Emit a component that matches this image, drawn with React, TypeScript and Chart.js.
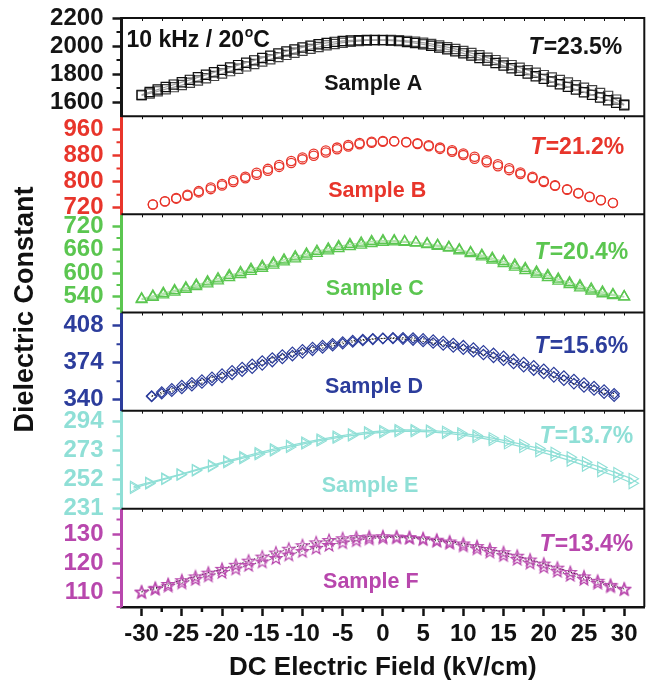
import React, { useEffect, useRef } from 'react';
import { Chart, registerables } from 'chart.js';

Chart.register(...registerables);

const FONT = '"Liberation Sans", Arial, Helvetica, sans-serif';
const W = 652;
const H = 684;

// ---------------- data ----------------
const X_TICKS = [-30, -25, -20, -15, -10, -5, 0, 5, 10, 15, 20, 25, 30];
const X_MINOR = [-27.5, -22.5, -17.5, -12.5, -7.5, -2.5, 2.5, 7.5, 12.5, 17.5, 22.5, 27.5];

const X_A = [-30, -29, -28, -27, -26, -25, -24, -23, -22, -21, -20, -19, -18, -17, -16, -15, -14, -13, -12, -11, -10, -9, -8, -7, -6, -5, -4, -3, -2, -1,
  0, 1, 2, 3, 4, 5, 6, 7, 8, 9, 10, 11, 12, 13, 14, 15, 16, 17, 18, 19, 20, 21, 22, 23, 24, 25, 26, 27, 28, 29, 30];
const A_SWEEP1 = [1652, 1672, 1690, 1708, 1725, 1742, 1759, 1777, 1795, 1813, 1830, 1847, 1864, 1881, 1898, 1915, 1931, 1947, 1962, 1976, 1990, 2002, 2013, 2022, 2030, 2036, 2040, 2042, 2043, 2043,
  2042, 2039, 2035, 2029, 2021, 2012, 2002, 1990, 1977, 1963, 1948, 1932, 1915, 1897, 1879, 1861, 1842, 1823, 1804, 1785, 1766, 1747, 1728, 1709, 1690, 1671, 1652, 1633, 1614, 1596, 1578];
const A_SWEEP2 = [1648, 1662, 1677, 1692, 1707, 1722, 1738, 1754, 1770, 1787, 1804, 1821, 1838, 1855, 1872, 1889, 1905, 1921, 1937, 1952, 1966, 1980, 1993, 2005, 2015, 2024, 2031, 2036, 2040, 2042,
  2043, 2043, 2041, 2037, 2031, 2024, 2015, 2004, 1992, 1979, 1965, 1950, 1934, 1917, 1900, 1882, 1864, 1846, 1828, 1810, 1793, 1776, 1758, 1740, 1720, 1703, 1685, 1666, 1645, 1618, 1583];

const X_B = [-28.6, -27.1, -25.7, -24.3, -22.9, -21.4, -20, -18.6, -17.1, -15.7, -14.3, -12.9, -11.4, -10, -8.6, -7.1, -5.7, -4.3, -2.9, -1.4,
  0, 1.4, 2.9, 4.3, 5.7, 7.1, 8.6, 10, 11.4, 12.9, 14.3, 15.7, 17.1, 18.6, 20, 21.4, 22.9, 24.3, 25.7, 27.1, 28.6];
const B_SWEEP1 = [730, 740, 750, 760, 771, 782, 793, 804, 815, 827, 839, 851, 863, 874, 885, 895, 904, 912, 918, 922,
  924, 923, 920, 915, 908, 900, 891, 881, 870, 859, 847, 835, 823, 811, 799, 787, 775, 764, 753, 743, 735];
const B_SWEEP2 = [730, 739, 748, 757, 767, 777, 788, 799, 810, 821, 833, 845, 857, 868, 879, 889, 899, 907, 914, 919,
  922, 923, 921, 917, 911, 904, 896, 886, 876, 865, 853, 841, 828, 815, 802, 789, 777, 765, 754, 744, 735];

const X_C = [-30, -28.6, -27.3, -25.9, -24.5, -23.2, -21.8, -20.5, -19.1, -17.7, -16.4, -15, -13.6, -12.3, -10.9, -9.5, -8.2, -6.8, -5.5, -4.1, -2.7, -1.4,
  0, 1.4, 2.7, 4.1, 5.5, 6.8, 8.2, 9.5, 10.9, 12.3, 13.6, 15, 16.4, 17.7, 19.1, 20.5, 21.8, 23.2, 24.5, 25.9, 27.3, 28.6, 30];
const C_SWEEP1 = [535, 542, 549, 556, 563, 570, 578, 586, 594, 602, 610, 618, 626, 634, 642, 649, 656, 662, 668, 673, 677, 681,
  683, 683, 681, 678, 675, 671, 666, 660, 653, 646, 638, 630, 621, 612, 603, 594, 585, 576, 568, 560, 552, 546, 540];
const C_SWEEP2 = [533, 539, 545, 552, 559, 566, 573, 581, 589, 597, 605, 613, 621, 629, 637, 644, 651, 657, 663, 668, 672, 676,
  679, 680, 679, 677, 673, 669, 664, 657, 650, 642, 634, 625, 616, 607, 598, 589, 580, 571, 563, 555, 548, 543, 540];

const X_D = [-28.75, -27.5, -26.25, -25, -23.75, -22.5, -21.25, -20, -18.75, -17.5, -16.25, -15, -13.75, -12.5, -11.25, -10, -8.75, -7.5, -6.25, -5, -3.75, -2.5, -1.25,
  0, 1.25, 2.5, 3.75, 5, 6.25, 7.5, 8.75, 10, 11.25, 12.5, 13.75, 15, 16.25, 17.5, 18.75, 20, 21.25, 22.5, 23.75, 25, 26.25, 27.5, 28.75];
const D_SWEEP1 = [343, 347, 350, 353, 355.5, 358, 360.5, 363.5, 366.5, 369.5, 372.5, 375.5, 378.3, 381, 383.5, 385.8, 387.8, 389.7, 391.4, 392.9, 394.2, 395.2, 395.9,
  396.3, 396.2, 395.6, 394.7, 393.5, 392, 390.3, 388.4, 386.3, 384, 381.5, 378.9, 376.2, 373.3, 370.3, 367.2, 364.1, 361, 357.9, 354.8, 351.8, 348.9, 346, 343.3];
const D_SWEEP2 = [343.5, 345.5, 347.8, 350.3, 352.8, 355.3, 357.8, 360.5, 363.3, 366.1, 369, 372, 375, 377.8, 380.5, 383, 385.3, 387.5, 389.5, 391.3, 392.9, 394.3, 395.4,
  396.2, 396.8, 396.9, 396.6, 395.8, 394.7, 393.3, 391.6, 389.6, 387.4, 385, 382.5, 379.8, 377, 374.1, 371.1, 368, 364.9, 361.8, 358.6, 355.4, 352.2, 349, 345.5];

const X_E = [-31, -29.1, -27.1, -25.2, -23.3, -21.3, -19.4, -17.4, -15.5, -13.6, -11.6, -9.7, -7.8, -5.8, -3.9, -1.9,
  0, 1.9, 3.9, 5.8, 7.8, 9.7, 11.6, 13.6, 15.5, 17.4, 19.4, 21.3, 23.3, 25.2, 27.1, 29.1, 31];
const E_SWEEP1 = [247, 250, 253, 256, 259.2, 262.4, 265.5, 268.5, 271.4, 274.1, 276.7, 279.1, 281.3, 283.3, 285, 286.4,
  287.4, 288, 288.1, 287.7, 286.9, 285.7, 284.1, 282.2, 280, 277.5, 274.7, 271.6, 268.3, 264.7, 260.9, 256.9, 252.7];
const E_SWEEP2 = [246, 249.3, 252.5, 255.6, 258.7, 261.7, 264.7, 267.6, 270.4, 273.1, 275.7, 278.1, 280.3, 282.3, 284, 285.4,
  286.4, 287, 287.1, 286.7, 285.8, 284.5, 282.8, 280.7, 278.3, 275.6, 272.6, 269.3, 265.8, 262.1, 258.2, 254.2, 249.5];

const X_F = [-30, -28.3, -26.7, -25, -23.3, -21.7, -20, -18.3, -16.7, -15, -13.3, -11.7, -10, -8.3, -6.7, -5, -3.3, -1.7,
  0, 1.7, 3.3, 5, 6.7, 8.3, 10, 11.7, 13.3, 15, 16.7, 18.3, 20, 21.7, 23.3, 25, 26.7, 28.3, 30];
const F_SWEEP1 = [110.3, 111.6, 112.9, 114.2, 115.5, 116.8, 118.1, 119.5, 120.9, 122.3, 123.7, 125, 126.2, 127.2, 128, 128.6, 129, 129.2,
  129.3, 129.2, 129, 128.6, 128.1, 127.5, 126.8, 125.9, 124.9, 123.8, 122.6, 121.3, 119.9, 118.5, 117, 115.5, 114, 112.6, 111.3];
const F_SWEEP2 = [110.1, 111.2, 112.3, 113.4, 114.6, 115.8, 117, 118.2, 119.4, 120.6, 121.8, 123, 124.2, 125.3, 126.3, 127.2, 127.9, 128.5,
  128.8, 128.9, 128.7, 128.3, 127.7, 127, 126.1, 125.1, 124, 122.8, 121.5, 120.2, 118.8, 117.4, 116, 114.6, 113.3, 112.1, 111.1];

const PANEL_IDS = ['yA', 'yB', 'yC', 'yD', 'yE', 'yF'];
const PANEL_X = [X_A, X_B, X_C, X_D, X_E, X_F];
const PANEL_SWEEPS = [
  [A_SWEEP1, A_SWEEP2],
  [B_SWEEP1, B_SWEEP2],
  [C_SWEEP1, C_SWEEP2],
  [D_SWEEP1, D_SWEEP2],
  [E_SWEEP1, E_SWEEP2],
  [F_SWEEP1, F_SWEEP2],
];
const Y_MIN = [1500, 700, 500, 330, 231, 105];
const Y_MAX = [2200, 1000, 750, 420, 302, 138.7];
const Y_TICKS = [
  [1600, 1800, 2000, 2200],
  [720, 800, 880, 960],
  [540, 600, 660, 720],
  [340, 374, 408],
  [231, 252, 273, 294],
  [110, 120, 130],
];
const Y_MINOR = [
  [1700, 1900, 2100],
  [760, 840, 920],
  [510, 570, 630, 690],
  [357, 391],
  [241.5, 262.5, 283.5],
  [105, 115, 125, 135],
];
const T_VALUES = ['=23.5%', '=21.2%', '=20.4%', '=15.6%', '=13.7%', '=13.4%'];
const SAMPLE_LABELS = ['Sample A', 'Sample B', 'Sample C', 'Sample D', 'Sample E', 'Sample F'];
const HEADER = ['10 kHz / 20', 'o', 'C'];
const X_TITLE = 'DC Electric Field (kV/cm)';
const Y_TITLE = 'Dielectric Constant';

// ---------------- styles ----------------
const COLORS = ['#151515', '#e8352b', '#5bc650', '#2c3d9c', '#8fdfd6', '#b847ad'];
const T_RIGHT = [-22, -20, -16, -16, -11, -11];
const T_YF = [0.30, 0.325, 0.39, 0.35, 0.26, 0.36];
const S_XV = [-1.2, -0.7, -1, -1.1, -1.6, -1.5];
const S_YF = [0.67, 0.765, 0.765, 0.755, 0.77, 0.75];

function makeStar(color: string) {
  const R = 6.4, r = 2.7, lw = 1.2;
  const size = 16;
  const c = document.createElement('canvas');
  c.width = size;
  c.height = size;
  const g = c.getContext('2d')!;
  g.strokeStyle = color;
  g.lineWidth = lw;
  g.lineJoin = 'miter';
  g.beginPath();
  for (let k = 0; k < 10; k++) {
    const ang = -Math.PI / 2 + (k * Math.PI) / 5;
    const rad = k % 2 === 0 ? R : r;
    const px = size / 2 + rad * Math.cos(ang);
    const py = size / 2 + 0.6 + rad * Math.sin(ang);
    if (k === 0) g.moveTo(px, py);
    else g.lineTo(px, py);
  }
  g.closePath();
  g.stroke();
  return c;
}

function panelStyle(i: number, sweep: number) {
  const col = COLORS[i];
  switch (i) {
    case 0:
      return { pointStyle: 'rect', pointRadius: 6.5, pointBorderWidth: 1.2, pointBorderColor: sweep === 0 ? '#111' : '#444',
        showLine: true, borderColor: '#a0a0a0', borderWidth: 1.3 };
    case 1:
      return { pointStyle: 'circle', pointRadius: 4.6, pointBorderWidth: 1.3, pointBorderColor: col, showLine: false, borderColor: col };
    case 2:
      return { pointStyle: 'triangle', pointRadius: 6.2, pointBorderWidth: 1.3, pointBorderColor: col,
        showLine: true, borderColor: '#b2e3ab', borderWidth: 1.5 };
    case 3:
      return { pointStyle: 'rectRot', pointRadius: 5.2, pointBorderWidth: 1.2, pointBorderColor: col,
        showLine: true, borderColor: '#222', borderWidth: 1, borderDash: [1.5, 1.5] };
    case 4:
      return { pointStyle: 'triangle', pointRotation: 90, pointRadius: 6.3, pointBorderWidth: 1.1, pointBorderColor: col,
        showLine: true, borderColor: col, borderWidth: 1.3 };
    default:
      return { pointStyle: makeStar(col), pointRadius: 6, pointBorderWidth: 1, pointBorderColor: col,
        showLine: true, borderColor: '#222', borderWidth: 1, borderDash: [1, 2] };
  }
}

const framePlugin = {
  id: 'frame',
  afterDatasetsDraw(chart: any) {
    const { ctx, chartArea: ca, scales } = chart;
    const xs = scales.x;
    ctx.save();
    ctx.strokeStyle = '#111';
    ctx.lineWidth = 2;
    ctx.beginPath();
    PANEL_IDS.forEach((id) => {
      const s = scales[id];
      ctx.moveTo(ca.left, s.top);
      ctx.lineTo(ca.right, s.top);
    });
    ctx.moveTo(ca.right, ca.top - 1);
    ctx.lineTo(ca.right, ca.bottom);
    ctx.stroke();

    // small mirror ticks on panel borders
    ctx.lineWidth = 1;
    ctx.beginPath();
    PANEL_IDS.forEach((id) => {
      const s = scales[id];
      [...X_TICKS, ...X_MINOR].forEach((v) => {
        const px = Math.round(xs.getPixelForValue(v)) + 0.5;
        ctx.moveTo(px, s.top);
        ctx.lineTo(px, s.top + 3);
      });
    });
    ctx.stroke();

    // y minor ticks
    PANEL_IDS.forEach((id, i) => {
      const s = scales[id];
      ctx.strokeStyle = COLORS[i];
      ctx.lineWidth = 2;
      ctx.beginPath();
      Y_MINOR[i].forEach((v) => {
        const py = s.getPixelForValue(v);
        ctx.moveTo(ca.left - 5, py);
        ctx.lineTo(ca.left, py);
      });
      ctx.stroke();
    });

    // x minor ticks
    ctx.strokeStyle = '#111';
    ctx.lineWidth = 2.5;
    ctx.beginPath();
    X_MINOR.forEach((v) => {
      const px = xs.getPixelForValue(v);
      ctx.moveTo(px, ca.bottom);
      ctx.lineTo(px, ca.bottom + 5);
    });
    ctx.stroke();
    ctx.restore();
  },
  afterDraw(chart: any) {
    const { ctx, chartArea: ca, scales } = chart;
    const xs = scales.x;
    ctx.save();
    ctx.textBaseline = 'middle';

    // axis titles
    ctx.fillStyle = '#111';
    ctx.font = `bold 27px ${FONT}`;
    ctx.textAlign = 'center';
    ctx.save();
    ctx.translate(26, (ca.top + ca.bottom) / 2 - 3);
    ctx.rotate(-Math.PI / 2);
    ctx.fillText(Y_TITLE, 0, 0);
    ctx.restore();
    ctx.font = `bold 26px ${FONT}`;
    ctx.fillText(X_TITLE, (ca.left + ca.right) / 2, 668);

    PANEL_IDS.forEach((id, i) => {
      const s = scales[id];
      const h = s.bottom - s.top;
      ctx.fillStyle = COLORS[i];
      // T label
      const ty = s.top + h * T_YF[i];
      ctx.textAlign = 'left';
      ctx.font = `italic bold 23px ${FONT}`;
      const wT = ctx.measureText('T').width;
      ctx.font = `bold 23px ${FONT}`;
      const wR = ctx.measureText(T_VALUES[i]).width;
      const right = ca.right + T_RIGHT[i];
      ctx.fillText(T_VALUES[i], right - wR, ty);
      ctx.font = `italic bold 23px ${FONT}`;
      ctx.fillText('T', right - wR - wT - 1, ty);
      // sample label
      ctx.textAlign = 'center';
      ctx.font = `bold 21.5px ${FONT}`;
      ctx.fillText(SAMPLE_LABELS[i], xs.getPixelForValue(S_XV[i]), s.top + h * S_YF[i]);
    });

    // header in panel A
    const sA = scales.yA;
    const hy = sA.top + (sA.bottom - sA.top) * 0.235;
    ctx.fillStyle = '#111';
    ctx.textAlign = 'left';
    let hx = ca.left + 5;
    ctx.font = `bold 23px ${FONT}`;
    ctx.fillText(HEADER[0], hx, hy);
    hx += ctx.measureText(HEADER[0]).width;
    ctx.font = `bold 14px ${FONT}`;
    ctx.fillText(HEADER[1], hx + 0.5, hy - 8);
    hx += ctx.measureText(HEADER[1]).width + 0.5;
    ctx.font = `bold 23px ${FONT}`;
    ctx.fillText(HEADER[2], hx, hy);
    ctx.restore();
  },
};

export default function App() {
  const ref = useRef<HTMLCanvasElement | null>(null);

  useEffect(() => {
    if (!ref.current) return;
    const datasets: any[] = [];
    PANEL_IDS.forEach((id, i) => {
      PANEL_SWEEPS[i].forEach((ys, k) => {
        const st: any = panelStyle(i, k);
        datasets.push({
          label: `${SAMPLE_LABELS[i]} ${k + 1}`,
          data: PANEL_X[i].map((x, j) => ({ x, y: ys[j] })),
          yAxisID: id,
          pointBackgroundColor: 'rgba(0,0,0,0)',
          backgroundColor: 'rgba(0,0,0,0)',
          fill: false,
          tension: 0,
          ...st,
        });
      });
    });

    const tickFont = { family: FONT, size: 24, weight: 'bold' as const };
    const scales: any = {
      x: {
        type: 'linear',
        position: 'bottom',
        min: -32.5,
        max: 32.5,
        afterBuildTicks: (ax: any) => {
          ax.ticks = X_TICKS.map((v) => ({ value: v }));
        },
        afterFit: (ax: any) => {
          ax.height = 77;
          ax.paddingLeft = 0;
          ax.paddingRight = 0;
        },
        grid: { drawOnChartArea: false, drawTicks: true, tickLength: 9, tickWidth: 2.5, tickColor: '#111' },
        border: { color: '#111', width: 2.5 },
        ticks: { color: '#111', font: tickFont, padding: 4, maxRotation: 0, autoSkip: false, callback: (v: any) => String(v) },
      },
    };
    // bottom panel first so that panel A ends at the top of the stack
    for (let i = PANEL_IDS.length - 1; i >= 0; i--) {
      const ticks = Y_TICKS[i];
      scales[PANEL_IDS[i]] = {
        type: 'linear',
        position: 'left',
        stack: 'panels',
        stackWeight: 1,
        offset: false,
        min: Y_MIN[i],
        max: Y_MAX[i],
        afterBuildTicks: (ax: any) => {
          ax.ticks = ticks.map((v) => ({ value: v }));
        },
        afterFit: (ax: any) => {
          ax.width = 121.5;
          ax.paddingTop = 0;
          ax.paddingBottom = 0;
        },
        grid: { drawOnChartArea: false, drawTicks: true, tickLength: 9, tickWidth: 2.5, tickColor: COLORS[i] },
        border: { color: COLORS[i], width: 3 },
        ticks: { color: COLORS[i], font: tickFont, padding: 9, autoSkip: false, callback: (v: any) => String(v) },
      };
    }

    const chart = new Chart(ref.current, {
      type: 'scatter',
      data: { datasets },
      options: {
        responsive: false,
        animation: false,
        events: [],
        devicePixelRatio: 1,
        layout: { padding: { top: 18, right: 4, left: 0, bottom: 0 } },
        plugins: { legend: { display: false }, tooltip: { enabled: false }, title: { display: false } },
        scales,
      },
      plugins: [framePlugin],
    } as any);
    return () => chart.destroy();
  }, []);

  return (
    <div style={{ position: 'absolute', left: 0, top: 0, width: W, height: H, background: '#fff' }}>
      <canvas ref={ref} width={W} height={H} style={{ width: W, height: H, display: 'block' }} />
    </div>
  );
}
